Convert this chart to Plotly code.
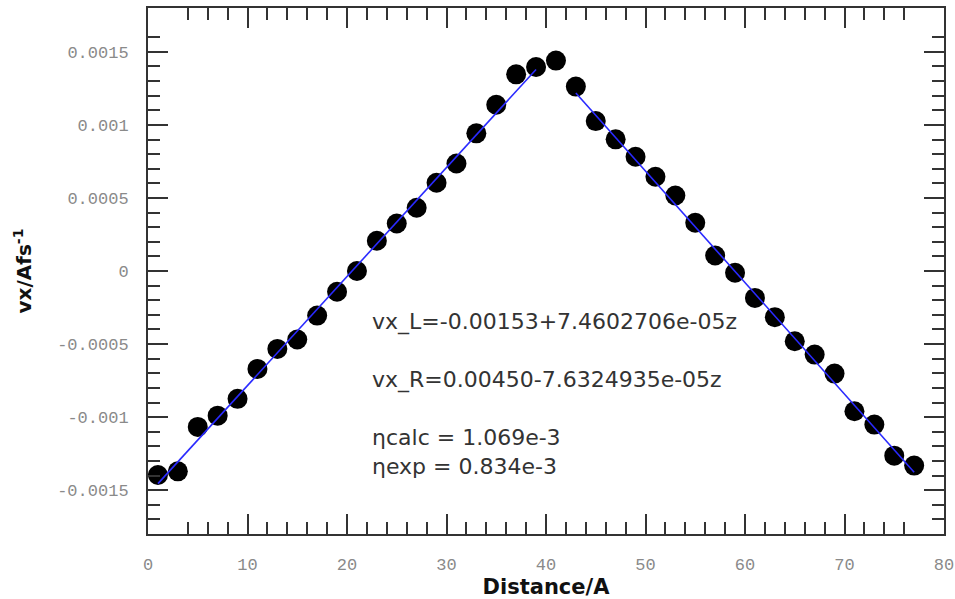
import plotly.graph_objects as go

# ---- data ----
distance = [1, 3, 5, 7, 9, 11, 13, 15, 17, 19, 21, 23, 25, 27, 29, 31, 33, 35, 37, 39,
            41, 43, 45, 47, 49, 51, 53, 55, 57, 59, 61, 63, 65, 67, 69, 71, 73, 75, 77]
vx = [-0.001396, -0.001371, -0.001067, -0.000990, -0.000875, -0.000670, -0.000533,
      -0.000469, -0.000305, -0.000142, 0.000000, 0.000207, 0.000325, 0.000433,
      0.000604, 0.000736, 0.000942, 0.001138, 0.001346, 0.001396, 0.001440,
      0.001262, 0.001026, 0.000901, 0.000782, 0.000645, 0.000517, 0.000330,
      0.000106, -0.000012, -0.000184, -0.000316, -0.000481, -0.000572, -0.000702,
      -0.000960, -0.001051, -0.001264, -0.001332]

# fitted lines shown in the chart (coefficients from the annotation)
fit_left_x = [1, 3, 5, 7, 9, 11, 13, 15, 17, 19, 21, 23, 25, 27, 29, 31, 33, 35, 37, 39]
fit_right_x = [43, 45, 47, 49, 51, 53, 55, 57, 59, 61, 63, 65, 67, 69, 71, 73, 75, 77]
left_a, left_b = -0.00153, 7.4602706e-05
right_a, right_b = 0.00450, -7.6324935e-05
fit_left_y = [left_a + left_b * z for z in fit_left_x]
fit_right_y = [right_a + right_b * z for z in fit_right_x]

x_ticks = [0, 10, 20, 30, 40, 50, 60, 70, 80]
x_minor = [4, 6, 8, 12, 14, 16, 18, 22, 24, 26, 28, 32, 34, 36, 38, 42, 44, 46, 48,
           52, 54, 56, 58, 62, 64, 66, 68, 72, 74, 76]
y_ticks = [-0.0015, -0.001, -0.0005, 0, 0.0005, 0.001, 0.0015]
y_ticktext = ["-0.0015", "-0.001", "-0.0005", "0", "0.0005", "0.001", "0.0015"]
y_minor = [-0.0017, -0.0016, -0.0014, -0.0013, -0.0012, -0.0011, -0.0009, -0.0008,
           -0.0007, -0.0006, -0.0004, -0.0003, -0.0002, -0.0001, 0.0001, 0.0002,
           0.0003, 0.0004, 0.0006, 0.0007, 0.0008, 0.0009, 0.0011, 0.0012, 0.0013,
           0.0014, 0.0016]

notes = ["vx_L=-0.00153+7.4602706e-05z", "vx_R=0.00450-7.6324935e-05z",
         "ηcalc = 1.069e-3", "ηexp = 0.834e-3"]
note_x = [22.3, 22.3, 22.3, 22.3]
note_y = [-0.000346, -0.000743, -0.001140, -0.001339]

fig = go.Figure()
fig.add_trace(go.Scatter(x=distance, y=vx, mode="markers",
                         marker=dict(color="black", size=20), showlegend=False))
fig.add_trace(go.Scatter(x=fit_left_x, y=fit_left_y, mode="lines",
                         line=dict(color="#2a2aff", width=1.6), showlegend=False))
fig.add_trace(go.Scatter(x=fit_right_x, y=fit_right_y, mode="lines",
                         line=dict(color="#2a2aff", width=1.6), showlegend=False))

for t, xx, yy in zip(notes, note_x, note_y):
    fig.add_annotation(x=xx, y=yy, xref="x", yref="y", text=t, showarrow=False,
                       xanchor="left", yanchor="middle",
                       font=dict(family="DejaVu Sans", size=22, color="#333333"))

tickfont = dict(family="Liberation Mono", size=17, color="#8a8a8a")
axis_common = dict(showline=True, linewidth=2, linecolor="#333333", mirror="allticks",
                   ticks="inside", ticklen=20, tickwidth=2, tickcolor="#333333",
                   showgrid=False, zeroline=False, ticklabelstandoff=14,
                   tickfont=tickfont, automargin=False)

fig.update_layout(
    width=955, height=599,
    margin=dict(l=148, r=11, t=8, b=65),
    paper_bgcolor="white", plot_bgcolor="white",
    xaxis=dict(range=[0, 80], tickmode="array", tickvals=x_ticks,
               ticktext=[str(v) for v in x_ticks],
               minor=dict(tickmode="array", tickvals=x_minor, ticks="inside",
                          ticklen=12, tickwidth=2, tickcolor="#333333"),
               title=dict(text="Distance/A", standoff=10,
                          font=dict(family="DejaVu Sans", size=21, color="#111111",
                                    weight="bold")),
               **axis_common),
    yaxis=dict(range=[-0.0018, 0.0018], tickmode="array", tickvals=y_ticks,
               ticktext=y_ticktext,
               minor=dict(tickmode="array", tickvals=y_minor, ticks="inside",
                          ticklen=12, tickwidth=2, tickcolor="#333333"),
               title=dict(text="vx/Afs<sup>-1</sup>", standoff=20,
                          font=dict(family="DejaVu Sans", size=20, color="#111111",
                                    weight="bold")),
               **axis_common),
)

fig.write_html("out.html")
